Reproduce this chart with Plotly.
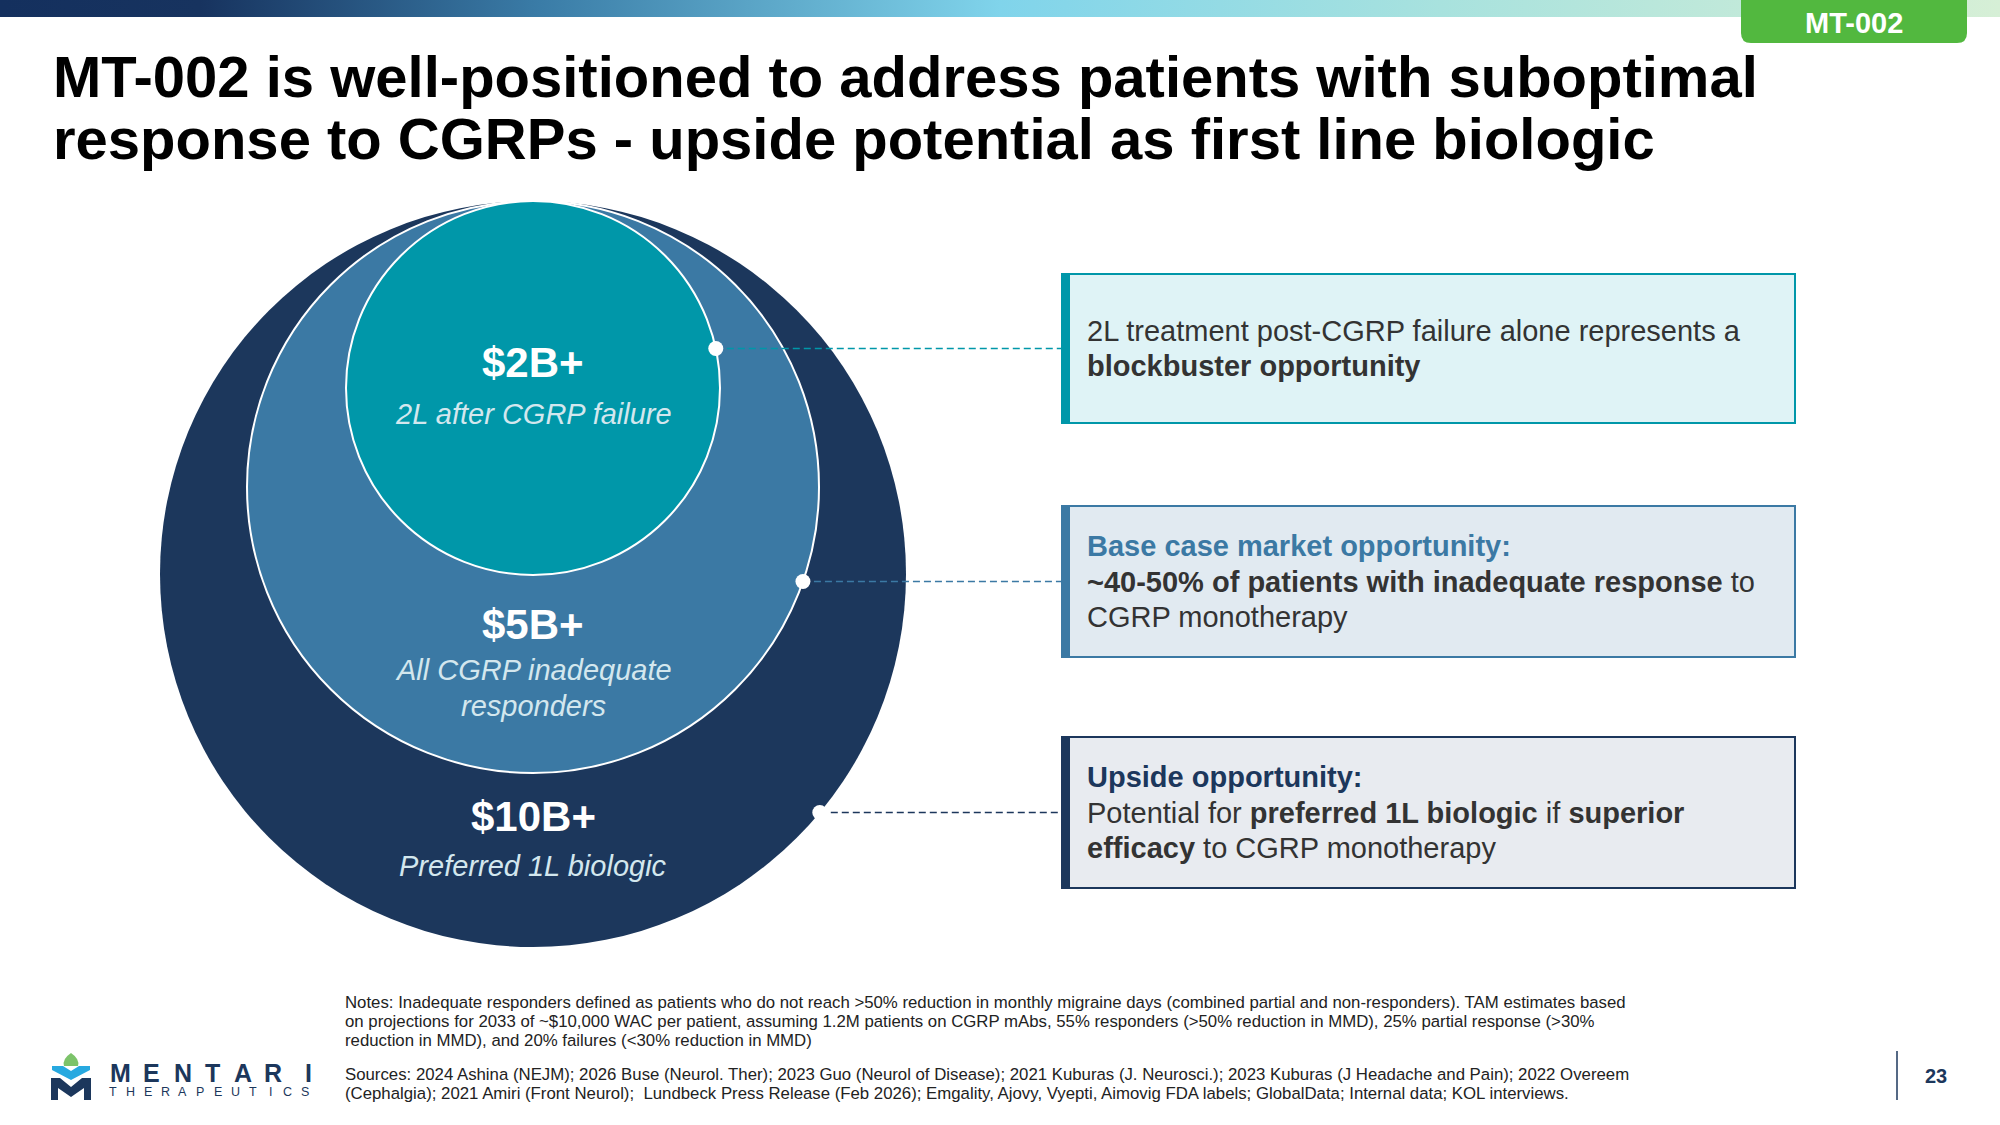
import plotly.graph_objects as go

W, H = 2000, 1125
FONT = "Arial, 'Liberation Sans', sans-serif"
NAVY = "#1c375c"
TEXT = "#333333"

# market tiers, outer -> inner
tier_values = ["$10B+", "$5B+", "$2B+"]
tier_desc = [["Preferred 1L biologic"],
             ["All CGRP inadequate", "responders"],
             ["2L after CGRP failure"]]
tier_colors = [NAVY, "#3b79a4", "#0097a9"]

# callout boxes, same order as tiers
box_heads = ["Upside opportunity:", "Base case market opportunity:", None]
box_lines = [
    ["Potential for <b>preferred 1L biologic</b> if <b>superior</b>",
     "<b>efficacy</b> to CGRP monotherapy"],
    ["<b>~40-50% of patients with inadequate response</b> to",
     "CGRP monotherapy"],
    ["2L treatment post-CGRP failure alone represents a",
     "<b>blockbuster opportunity</b>"],
]
box_fills = ["#e8ebf0", "#e1eaf1", "#dff3f6"]

title_lines = ["MT-002 is well-positioned to address patients with suboptimal",
               "response to CGRPs - upside potential as first line biologic"]
badge = "MT-002"
page_no = "23"
notes = [
    "Notes: Inadequate responders defined as patients who do not reach >50% reduction in monthly migraine days (combined partial and non-responders). TAM estimates based",
    "on projections for 2033 of ~$10,000 WAC per patient, assuming 1.2M patients on CGRP mAbs, 55% responders (>50% reduction in MMD), 25% partial response (>30%",
    "reduction in MMD), and 20% failures (<30% reduction in MMD)",
]
sources = [
    "Sources: 2024 Ashina (NEJM); 2026 Buse (Neurol. Ther); 2023 Guo (Neurol of Disease); 2021 Kuburas (J. Neurosci.); 2023 Kuburas (J Headache and Pain); 2022 Overeem",
    "(Cephalgia); 2021 Amiri (Front Neurol);  Lundbeck Press Release (Feb 2026); Emgality, Ajovy, Vyepti, Aimovig FDA labels; GlobalData; Internal data; KOL interviews.",
]
brand = "MENTARI"
brand_sub = "THERAPEUTICS"

# layout geometry
CX, TOP = 533, 201
radii = [373, 286, 187]
value_y = [816, 624, 362]
desc_y = [866, 670, 414]
BX0, BX1 = 1062, 1795
box_y = [(737, 888), (506, 657), (274, 423)]
PITCH = 35.5

fig = go.Figure()
shapes, ann = [], []

# top gradient band
fig.add_trace(go.Scatter(
    x=[0, W, W, 0, 0], y=[0, 0, 17, 17, 0], mode="lines", fill="toself",
    line=dict(width=0), hoverinfo="skip", showlegend=False,
    fillgradient=dict(type="horizontal", colorscale=[
        [0, "#14305e"], [0.1, "#17335f"], [0.27, "#3a7ca7"], [0.5, "#80d4eb"],
        [0.72, "#a8e2de"], [1, "#d6efd6"]])))

shapes.append(dict(type="path", layer="above", fillcolor="#52b83f", line=dict(width=0),
                   path="M 1741 0 L 1967 0 L 1967 33 Q 1967 43 1957 43 L 1751 43 Q 1741 43 1741 33 Z"))
ann.append(dict(x=1854, y=23, text=f"<b>{badge}</b>", font=dict(size=29, color="white")))

for i, t in enumerate(title_lines):
    ann.append(dict(x=51, y=76 + i * 62, text=f"<b>{t}</b>", xanchor="left",
                    font=dict(size=58, color="black")))

# nested circles
for i, r in enumerate(radii):
    shapes.append(dict(type="circle", layer="below", x0=CX - r, x1=CX + r, y0=TOP, y1=TOP + 2 * r,
                       fillcolor=tier_colors[i],
                       line=dict(color="white", width=0 if i == 0 else 2)))
    ann.append(dict(x=CX, y=value_y[i], text=f"<b>{tier_values[i]}</b>",
                    font=dict(size=42, color="white")))
    for j, d in enumerate(tier_desc[i]):
        ann.append(dict(x=CX, y=desc_y[i] + j * PITCH, text=f"<i>{d}</i>",
                        font=dict(size=29, color="#d3e7ee")))

# callouts
for i, (y0, y1) in enumerate(box_y):
    c = tier_colors[i]
    ym = (y0 + y1) / 2
    r = radii[i]
    cy = TOP + r
    xd = CX + (r * r - (ym - cy) ** 2) ** 0.5
    fig.add_trace(go.Scatter(x=[xd, BX0], y=[ym, ym], mode="lines", hoverinfo="skip",
                             showlegend=False, line=dict(color=c, width=1.5, dash="7px,4px")))
    fig.add_trace(go.Scatter(x=[xd], y=[ym], mode="markers", hoverinfo="skip", showlegend=False,
                             marker=dict(size=15, color="white", line=dict(width=0))))
    shapes.append(dict(type="rect", layer="below", x0=BX0, x1=BX1, y0=y0, y1=y1,
                       fillcolor=box_fills[i], line=dict(color=c, width=2)))
    shapes.append(dict(type="rect", layer="below", x0=BX0, x1=BX0 + 8, y0=y0, y1=y1,
                       fillcolor=c, line=dict(width=0)))
    rows = ([f"<b><span style='color:{c}'>{box_heads[i]}</span></b>"] if box_heads[i] else []) + box_lines[i]
    start = ym - (len(rows) - 1) / 2 * PITCH
    for j, t in enumerate(rows):
        ann.append(dict(x=1085, y=start + j * PITCH, text=t, xanchor="left",
                        font=dict(size=29, color=TEXT)))

# footnotes
for j, t in enumerate(notes):
    ann.append(dict(x=343, y=1002 + j * 19.2, text=t, xanchor="left", font=dict(size=16.8, color="#222222")))
for j, t in enumerate(sources):
    ann.append(dict(x=343, y=1074 + j * 19.2, text=t, xanchor="left", font=dict(size=16.8, color="#222222")))

# page number
shapes.append(dict(type="line", x0=1897, x1=1897, y0=1051, y1=1100, line=dict(color=NAVY, width=1.5)))
ann.append(dict(x=1936, y=1076, text=f"<b>{page_no}</b>", font=dict(size=20, color=NAVY)))

# logo
shapes.append(dict(type="path", fillcolor="#7cc36a", line=dict(width=0),
                   path="M 71 1053 Q 80 1059 78 1066 L 64 1066 Q 62 1059 71 1053 Z"))
shapes.append(dict(type="path", fillcolor="#27a9e0", line=dict(width=0),
                   path="M 52 1066 L 63 1066 L 71 1071 L 79 1066 L 90 1066 L 90 1070 L 71 1080 L 52 1070 Z"))
shapes.append(dict(type="path", fillcolor=NAVY, line=dict(width=0),
                   path="M 51 1100 L 51 1078 L 60 1078 L 71 1087 L 82 1078 L 91 1078 L 91 1100 L 84 1100 "
                        "L 84 1088 L 71 1097 L 58 1088 L 58 1100 Z"))
brand_x = [120, 151.5, 183, 212.5, 242.5, 272.5, 308]
for ch, x in zip(brand, brand_x):
    ann.append(dict(x=x, y=1073, text=f"<b>{ch}</b>", font=dict(size=25, color=NAVY)))
for k, ch in enumerate(brand_sub):
    ann.append(dict(x=113 + k * 17.45, y=1091.5, text=ch, font=dict(size=12.5, color=NAVY)))

for a in ann:
    a.setdefault("xanchor", "center")
    a.update(xref="x", yref="y", yanchor="middle", showarrow=False)
    a["font"].setdefault("family", FONT)

fig.update_layout(
    width=W, height=H, margin=dict(l=0, r=0, t=0, b=0),
    paper_bgcolor="white", plot_bgcolor="white",
    xaxis=dict(range=[0, W], visible=False, fixedrange=True),
    yaxis=dict(range=[H, 0], visible=False, fixedrange=True),
    shapes=shapes, annotations=ann, showlegend=False, font=dict(family=FONT),
)

fig.write_html("out.html", config={"displayModeBar": False},
               post_script="document.body.style.margin='0';document.body.style.overflow='hidden';")
